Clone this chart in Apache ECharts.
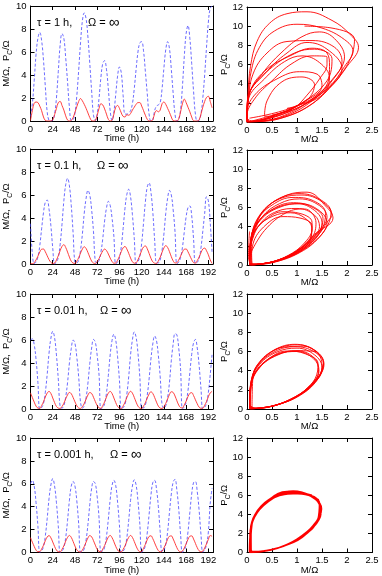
<!DOCTYPE html>
<html>
<head>
<meta charset="utf-8">
<script src="https://cdn.jsdelivr.net/npm/echarts@6/dist/echarts.min.js"></script>
<style>html,body{margin:0;padding:0;background:#fff;} #chart{width:382px;height:576px;}</style>
</head>
<body>
<div id="chart"></div>
<script>
// sample times (h), every 2 h
const hours = [0,2,4,6,8,10,12,14,16,18,20,22,24,26,28,30,32,34,36,38,40,42,44,46,48,50,52,54,56,58,60,62,64,66,68,70,72,74,76,78,80,82,84,86,88,90,92,94,96,98,100,102,104,106,108,110,112,114,116,118,120,122,124,126,128,130,132,134,136,138,140,142,144,146,148,150,152,154,156,158,160,162,164,166,168,170,172,174,176,178,180,182,184,186,188,190,192,194,196];

// tau = 1 h
const m1 = [0.05,0.9,1.55,1.65,1.6,1.3,0.9,0.35,0.05,0,0,0, 0.1,0.55,1.1,1.6,1.7,1.35,0.95,0.45,0.08,0, 0.05,0.3,0.75,1.25,1.7,1.95,1.75,1.45,1.1,0.7,0.3,0.03,0, 0.05,0.5,1.1,1.5,1.4,1.05,0.6,0.15,0, 0.05,0.6,1.2,1.35,1.1,0.7,0.4,0.35,0.55,0.5,0.65,0.95,1.2,1.45,1.6,1.6,1.3,0.9,0.5,0.15,0,0, 0.1,0.65,0.9,0.8,0.95,1.5,1.65,1.45,1.1,0.75,0.35,0.03,0,0, 0.2,0.8,1.5,1.9,1.6,1.2,0.8,0.35,0.02,0,0, 0.1,0.6,1.2,1.7,2.05,2.15,1.7,1.15];
const p1 = [0.4,1.5,3.5,5.8,7.2,7.7,7.0,5.3,3.0,0.8,0.05,0, 0.05,0.6,2.0,4.3,6.6,7.6,7.2,5.5,3.4,1.2, 0.05,0.1,0.7,2.2,4.4,6.8,8.7,9.4,8.9,7.3,5.0,2.6,0.5, 0.05,0.6,2.0,3.8,5.0,5.25,4.5,2.8,0.9, 0.05,0.8,2.3,3.9,4.7,4.2,2.2,0.6,0.6,0.7,0.9,1.5,2.8,4.5,6.0,6.8,6.9,6.1,4.3,2.4,0.6,0, 0.1,0.9,1.3,1.4,1.6,2.8,4.6,6.2,6.9,6.3,4.5,2.4,0.6,0, 0.1,1.0,3.0,5.6,7.6,8.3,7.2,5.0,2.6,0.6,0, 0.05,0.6,2.0,4.0,6.4,8.6,9.8,10.0];
// later, larger loops seen only in the phase plot
const extra1 = [
  [0.02,0],[0.3,0.08],[0.8,0.6],[1.3,1.9],[1.7,3.8],[2.0,5.8],[2.23,7.8],[2.05,9.2],[1.7,10.6],[1.2,11.5],[0.8,11.3],[0.45,10.3],[0.2,8.4],[0.07,5.8],[0.02,3],[0,0.5],
  [0.25,0.05],[0.75,0.5],[1.25,1.7],[1.65,3.6],[1.95,5.8],[2.12,7.4],[1.95,8.6],[1.5,9.8],[1.0,10.2],[0.55,9.5],[0.25,7.8],[0.08,5.2],[0.02,2],[0,0],
  [0.3,0.1],[0.8,0.7],[1.3,2.2],[1.7,4.3],[1.9,6.3],[1.75,7.8],[1.3,8.5],[0.8,8.4],[0.4,7.2],[0.12,5],[0.02,2],[0,0]
];

// tau = 0.1 h
const m2 = [0.05,0.03, 0.11,0.36,0.68,1.04,1.28,1.3,1.06,0.72,0.38,0.14,0.05, 0.08,0.35,0.72,1.16,1.53,1.68,1.44,1.04,0.6,0.24,0.08, 0.05,0.25,0.55,0.95,1.3,1.5,1.35,1.0,0.6,0.25,0.08, 0.05,0.22,0.48,0.83,1.13,1.3,1.17,0.87,0.52,0.22,0.07, 0.09,0.34,0.67,1.08,1.41,1.52,1.3,0.93,0.52,0.2,0.07, 0.1,0.38,0.74,1.17,1.48,1.57,1.33,0.92,0.5,0.19,0.07, 0.05,0.27,0.59,1.02,1.39,1.6,1.44,1.07,0.64,0.27,0.09, 0.11,0.36,0.68,1.04,1.28,1.3,1.06,0.72,0.38,0.12, 0.08,0.3,0.6,0.98,1.3,1.38,1.15,0.8,0.35,0.05];
const p2 = [3.5,0.9, 0.03,0.18,0.61,1.58,3.06,4.46,5.38,5.56,4.77,3.33,1.4, 0.01,0.16,0.57,1.7,3.45,5.5,6.9,7.45,6.8,5.1,2.7, 0.15,0.1,0.35,1.2,2.6,4.4,5.7,6.4,6.0,4.7,2.8, 0.2,0.09,0.3,1.02,2.2,3.75,4.85,5.45,5.1,4.0,2.4, 0.02,0.15,0.53,1.5,3.1,4.85,6.05,6.5,5.85,4.3,2.25, 0.02,0.19,0.66,1.8,3.55,5.4,6.7,7.05,6.25,4.55,2.1, 0.1,0.1,0.35,1.2,2.6,4.4,5.7,6.4,6.0,4.7,2.8, 0.02,0.16,0.56,1.44,2.8,4.1,4.9,5.05,4.2,2.2, 0.05,0.14,0.48,1.4,2.85,4.4,5.85,5.5,3.6,1.0];
const extra2 = [
  [0.05,0],[0.3,0.1],[0.65,0.5],[1.05,1.5],[1.4,3.0],[1.62,4.6],[1.7,5.2],[1.5,6.6],[1.1,7.3],[0.7,7.0],[0.35,5.8],[0.15,3.8],[0.06,1.5],[0.05,0],
  [0.3,0.12],[0.68,0.6],[1.1,1.8],[1.42,3.4],[1.6,5.0],[1.45,6.2],[1.05,6.9],[0.65,6.4],[0.3,5.0],[0.12,3.0],[0.05,0.8],[0.05,0],
  [0.28,0.1],[0.62,0.5],[1.0,1.5],[1.35,3.2],[1.72,4.9],[1.6,6.0],[1.2,7.6],[0.8,7.3],[0.4,6.0],[0.15,3.8],[0.05,1.0],[0.05,0],
  [0.25,0.1],[0.55,0.4],[0.92,1.2],[1.25,2.6],[1.45,4.0],[1.35,5.2],[1.0,5.9],[0.6,5.6],[0.28,4.4],[0.1,2.5],[0.05,0.5],[0.05,0]
];

// tau = 0.01 h
const m3 = [1.4,1.0,0.6,0.25,0.08, 0.06,0.3,0.62,1.04,1.38,1.53,1.35,0.96,0.56,0.22,0.08,0.05, 0.21,0.5,0.88,1.23,1.44,1.33,1.0,0.62,0.28,0.09,0.05, 0.2,0.48,0.86,1.22,1.43,1.35,1.02,0.64,0.3,0.1, 0.06,0.3,0.62,1.04,1.38,1.53,1.35,0.96,0.56,0.22,0.08, 0.05,0.27,0.59,1.0,1.35,1.54,1.38,1.01,0.6,0.25,0.08, 0.05,0.25,0.55,0.95,1.3,1.5,1.35,1.0,0.6,0.25,0.08,0.05, 0.19,0.49,0.87,1.26,1.5,1.44,1.13,0.72,0.34,0.12, 0.1,0.36,0.69,1.08,1.36,1.42,1.17,0.8,0.45,0.16,0.06, 0.08,0.32,0.65,1.07,1.4,1.53];
const p3 = [6.0,6.1,5.6,4.3,2.3, 0,0.13,0.47,1.45,3.0,4.85,6.15,6.75,6.2,4.7,2.6,0.2, 0.08,0.3,1.05,2.3,4.0,5.25,6.0,5.7,4.5,2.8,0.6, 0.07,0.28,1.0,2.25,3.95,5.3,6.05,5.8,4.65,2.95, 0,0.13,0.45,1.4,2.9,4.7,5.95,6.5,6.0,4.55,2.5, 0,0.11,0.4,1.3,2.8,4.7,6.0,6.7,6.25,4.85,2.8, 0.1,0.1,0.35,1.2,2.6,4.35,5.65,6.35,5.95,4.65,2.8,0.4, 0.07,0.29,0.99,2.3,4.2,5.65,6.55,6.45,5.3,3.45, 0.02,0.17,0.6,1.6,3.15,4.75,5.75,6.05,5.3,3.8,1.8, 0.01,0.14,0.5,1.45,3.0,4.75];

// tau = 0.001 h
const m4 = [1.3,0.9,0.53,0.21,0.07, 0.08,0.31,0.63,1.03,1.35,1.48,1.28,0.92,0.53,0.21,0.07, 0.06,0.28,0.59,0.99,1.32,1.49,1.32,0.96,0.56,0.23,0.08,0.05, 0.22,0.52,0.91,1.27,1.48,1.37,1.03,0.64,0.28,0.1, 0.07,0.3,0.61,1.0,1.34,1.49,1.3,0.94,0.54,0.22,0.07, 0.06,0.28,0.59,0.99,1.32,1.49,1.32,0.96,0.56,0.23,0.08, 0.1,0.37,0.71,1.11,1.4,1.46,1.21,0.84,0.46,0.17,0.06, 0.12,0.4,0.75,1.15,1.42,1.45,1.18,0.8,0.42,0.15,0.06, 0.12,0.4,0.75,1.15,1.42,1.45,1.18,0.8,0.42,0.15,0.06, 0.12,0.4,0.75,1.15,1.48,1.42];
const p4 = [6.0,6.3,5.8,4.35,2.3, 0.01,0.14,0.5,1.45,2.95,4.7,5.9,6.45,5.8,4.35,2.3, 0,0.12,0.42,1.3,2.8,4.55,5.8,6.2,5.8,4.5,2.5,0.05, 0.08,0.32,1.1,2.45,4.2,5.6,6.2,6.0,4.85,3.0, 0.1,0.13,0.45,1.4,2.9,4.6,5.85,6.3,5.85,4.4,2.4, 0.02,0.12,0.42,1.3,2.8,4.55,5.8,6.35,5.9,4.5,2.5, 0.02,0.18,0.62,1.7,3.3,5.0,6.1,6.3,5.55,4.0,1.8, 0.03,0.2,0.7,1.8,3.5,5.1,6.15,6.4,5.45,3.8,1.6, 0.03,0.2,0.7,1.8,3.5,5.1,6.1,6.2,5.3,3.7,1.6, 0.03,0.2,0.7,1.8,4.3,5.6];

const tauText = ['τ = 1 h,', 'τ = 0.1 h,', 'τ = 0.01 h,', 'τ = 0.001 h,'];
const omegaX = [88, 97, 100, 110];
const rows = [[m1,p1,extra1],[m2,p2,extra2],[m3,p3,null],[m4,p4,null]];

const FONT = '"Liberation Sans", Arial, sans-serif';
const leftTop = [6, 149, 294, 438];
const rightTop = [7, 150, 294, 438];

let grids = [], xAxes = [], yAxes = [], series = [], graphics = [];
const frame = {show:true, onZero:false, lineStyle:{color:'#000', width:1}};
const tick = {show:true, inside:true, length:4, lineStyle:{color:'#000', width:1}};
const lbl = {fontSize:9.5, color:'#000', fontFamily:FONT};

function addGrid(top, left, width, xa, ya){
	let gi = grids.length;
	grids.push({left:left, top:top, width:width, height:115});
	xAxes.push({gridIndex:gi, type:'value', position:'bottom', min:xa.min, max:xa.max, interval:xa.interval,
		axisLine:frame, axisTick:tick, splitLine:{show:false},
		axisLabel:Object.assign({margin:3, showMaxLabel:xa.showMax, formatter:xa.fmt}, lbl),
		name:xa.name, nameLocation:'middle', nameGap:12.5, nameMoveOverlap:false,
		nameTextStyle:{fontSize:9.5, color:'#000', fontFamily:FONT}});
	xAxes.push({gridIndex:gi, type:'value', position:'top', min:xa.min, max:xa.max, interval:xa.interval,
		axisLine:frame, axisTick:tick, axisLabel:{show:false}, splitLine:{show:false}});
	yAxes.push({gridIndex:gi, type:'value', position:'left', min:ya.min, max:ya.max, interval:ya.interval,
		axisLine:frame, axisTick:tick, splitLine:{show:false},
		axisLabel:Object.assign({margin:4}, lbl),
		name:ya.name, nameLocation:'middle', nameGap:ya.gap, nameMoveOverlap:false,
		nameTextStyle:{fontFamily:FONT, color:'#000', rich:{
			t:{fontSize:9.5, lineHeight:15, fontFamily:FONT, color:'#000'},
			s:{fontSize:6.5, verticalAlign:'bottom', fontFamily:FONT, color:'#000'}
		}}});
	yAxes.push({gridIndex:gi, type:'value', position:'right', min:ya.min, max:ya.max, interval:ya.interval,
		axisLine:frame, axisTick:tick, axisLabel:{show:false}, splitLine:{show:false}});
	return 2*gi;
}

rows.forEach((r, i) => {
	let m = r[0], p = r[1];
	let ax = addGrid(leftTop[i], 29, 184,
		{min:0, max:197, interval:24, name:'Time (h)', showMax:false, fmt:v => (v % 24 === 0 ? v : '')},
		{min:0, max:10, interval:2, name:'{t|M/Ω,  P}{s|C}{t|/Ω}', gap:17});
	series.push({type:'line', xAxisIndex:ax, yAxisIndex:ax, data:hours.map((t,k)=>[t, p[k]]),
		showSymbol:false, smooth:0.4, lineStyle:{color:'#4646ff', width:0.8, type:[3,2]}, z:2});
	series.push({type:'line', xAxisIndex:ax, yAxisIndex:ax, data:hours.map((t,k)=>[t, m[k]]),
		showSymbol:false, smooth:0.4, lineStyle:{color:'#ff2a2a', width:0.9}, z:3});

	let bx = addGrid(rightTop[i], 247, 125,
		{min:0, max:2.5, interval:0.5, name:'M/Ω', showMax:true, fmt:v => v},
		{min:0, max:12, interval:2, name:'{t|P}{s|C}{t|/Ω}', gap:15});
	series.push({type:'line', xAxisIndex:bx, yAxisIndex:bx, data:m.map((v,k)=>[v, p[k]]),
		showSymbol:false, smooth:0.4, lineStyle:{color:'#ff0000', width:i === 3 ? 1.6 : 0.9}});
	if(r[2]){
		series.push({type:'line', xAxisIndex:bx, yAxisIndex:bx, data:r[2],
			showSymbol:false, smooth:0.4, lineStyle:{color:'#ff0000', width:0.9}});
	}

	let ty = leftTop[i] + 17;
	graphics.push({type:'text', x:37, y:ty, style:{text:tauText[i], fontSize:11, fontFamily:FONT, fill:'#000', verticalAlign:'middle'}});
	graphics.push({type:'text', x:omegaX[i], y:ty, style:{
		text:'{a|Ω = }{b|∞}', fontFamily:FONT, fill:'#000', verticalAlign:'middle',
		rich:{a:{fontSize:11, fontFamily:FONT, lineHeight:16, fill:'#000'}, b:{fontSize:15, fontFamily:FONT, lineHeight:16, fill:'#000'}}
	}});
});

let chart = echarts.init(document.getElementById('chart'), null, {renderer:'canvas'});
chart.setOption({
	animation:false,
	backgroundColor:'#fff',
	grid:grids,
	xAxis:xAxes,
	yAxis:yAxes,
	series:series,
	graphic:graphics
});
</script>
</body>
</html>
